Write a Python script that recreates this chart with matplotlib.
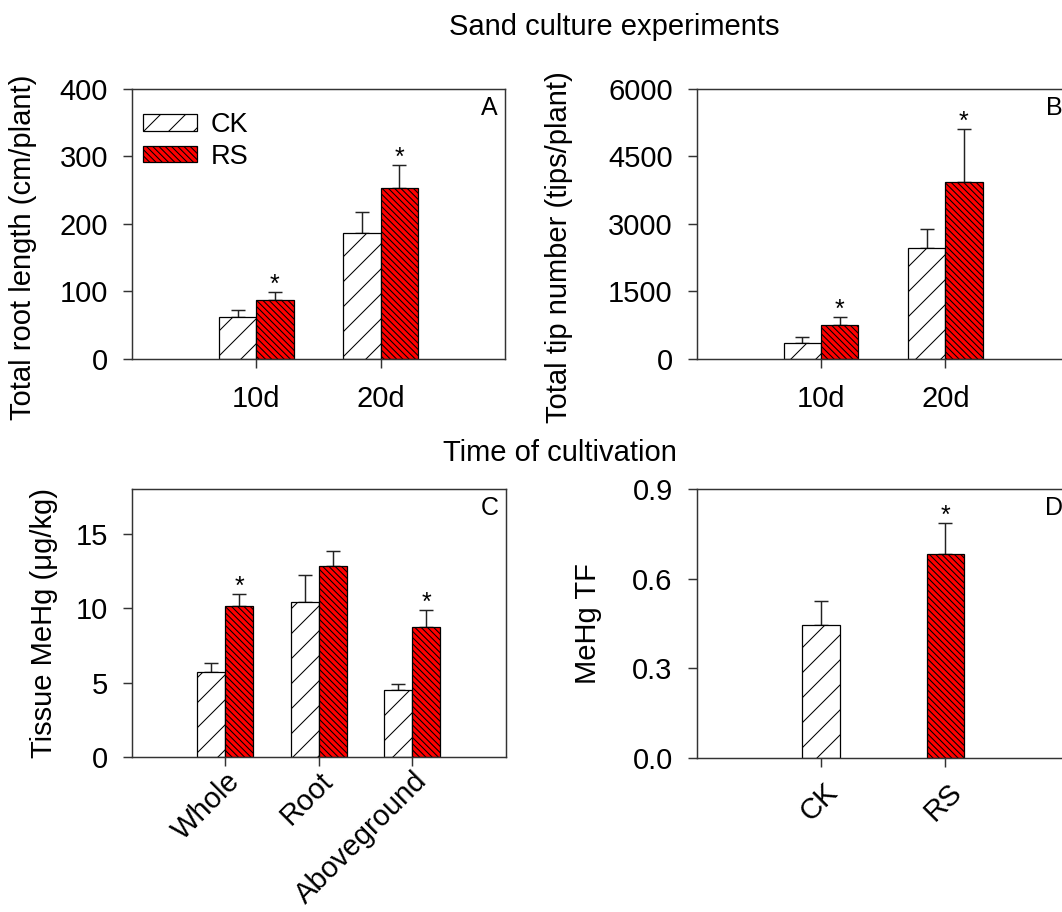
import numpy as np
import matplotlib
matplotlib.use("Agg")
import matplotlib.pyplot as plt
from matplotlib.transforms import ScaledTranslation

plt.rcParams['font.family'] = ['Liberation Sans', 'DejaVu Sans']
plt.rcParams['hatch.linewidth'] = 0.5

# panel A: total root length
days = ['10d', '20d']
root_ck = [62, 187]
root_ck_err = [10, 31]
root_rs = [87, 253]
root_rs_err = [12, 35]
root_sig = [True, True]

# panel B: total tip number
tip_ck = [364, 2470]
tip_ck_err = [120, 424]
tip_rs = [751, 3933]
tip_rs_err = [186, 1175]
tip_sig = [True, True]

# panel C: tissue MeHg
tissues = ['Whole', 'Root', 'Aboveground']
mehg_ck = [5.7, 10.4, 4.48]
mehg_ck_err = [0.63, 1.84, 0.45]
mehg_rs = [10.13, 12.85, 8.7]
mehg_rs_err = [0.81, 0.96, 1.19]
mehg_sig = [True, False, True]

# panel D: MeHg TF
treatments = ['CK', 'RS']
tf_vals = [0.443, 0.681]
tf_err = [0.082, 0.105]
tf_sig = [False, True]

FS = 14
W = 0.3
SPINE = '#333333'
CK_HATCH = '//'
RS_HATCH = '\\' * 8


def style_axis(ax, ylim, yticks, letter):
    ax.set_ylim(*ylim)
    ax.set_yticks(yticks)
    for s in ax.spines.values():
        s.set_color(SPINE)
        s.set_linewidth(0.7)
    ax.tick_params(axis='both', direction='out', length=4.5, width=0.7,
                   color=SPINE, labelsize=FS)
    ax.tick_params(axis='y', pad=7)
    ax.tick_params(axis='x', pad=8)
    ax.text(0.958, 0.93, letter, transform=ax.transAxes, fontsize=12,
            ha='center', va='center')


def star(ax, x, top):
    ax.annotate('*', xy=(x, top), xytext=(0, 0), textcoords='offset points',
                ha='center', va='baseline', fontsize=12)


def grouped(ax, labels, ck, ck_err, rs, rs_err, sig):
    x = np.arange(1, len(labels) + 1)
    ax.bar(x - W / 2, ck, W, color='white', edgecolor='black', hatch=CK_HATCH,
           linewidth=0.6, label='CK', zorder=2)
    ax.bar(x + W / 2, rs, W, color='#ff0000', edgecolor='black',
           hatch=RS_HATCH, linewidth=0.6, label='RS', zorder=2)
    ax.errorbar(x - W / 2, ck, yerr=[np.zeros(len(ck)), ck_err], fmt='none',
                ecolor='#222222', elinewidth=0.7, capsize=3.5, capthick=0.7, zorder=1)
    ax.errorbar(x + W / 2, rs, yerr=[np.zeros(len(rs)), rs_err], fmt='none',
                ecolor='#222222', elinewidth=0.7, capsize=3.5, capthick=0.7, zorder=1)
    for i in range(len(labels)):
        if sig[i]:
            star(ax, x[i] + W / 2, rs[i] + rs_err[i])
    ax.set_xlim(0, len(labels) + 1)
    ax.set_xticks(x)
    ax.set_xticklabels(labels)


def rotate_labels(ax, fig, dx):
    off = ScaledTranslation(dx / 72, 0, fig.dpi_scale_trans)
    for lab in ax.get_xticklabels():
        lab.set_rotation(45)
        lab.set_ha('right')
        lab.set_va('center')
        lab.set_rotation_mode('anchor')
        lab.set_transform(lab.get_transform() + off)


fig = plt.figure(figsize=(1062 / 150, 912 / 150), dpi=150)

axA = fig.add_axes([0.1243, 0.6064, 0.3512, 0.2960])
grouped(axA, days, root_ck, root_ck_err, root_rs, root_rs_err, root_sig)
style_axis(axA, (0, 400), [0, 100, 200, 300, 400], 'A')
axA.set_ylabel('Total root length (cm/plant)', fontsize=FS)
axA.yaxis.set_label_coords(-0.255, 0.415)
axA.legend(loc='upper left', bbox_to_anchor=(0.03, 0.915), frameon=False,
           fontsize=13, handlelength=2.0, handleheight=0.55,
           handletextpad=0.5, labelspacing=0.22, borderpad=0, borderaxespad=0)

axB = fig.add_axes([0.656, 0.6064, 0.3512, 0.2960])
grouped(axB, days, tip_ck, tip_ck_err, tip_rs, tip_rs_err, tip_sig)
style_axis(axB, (0, 6000), [0, 1500, 3000, 4500, 6000], 'B')
axB.set_ylabel('Total tip number (tips/plant)', fontsize=FS)
axB.yaxis.set_label_coords(-0.332, 0.415)

axC = fig.add_axes([0.124, 0.1700, 0.352, 0.2938])
grouped(axC, tissues, mehg_ck, mehg_ck_err, mehg_rs, mehg_rs_err, mehg_sig)
style_axis(axC, (0, 18), [0, 5, 10, 15], 'C')
axC.set_ylabel('Tissue MeHg (\u03bcg/kg)', fontsize=FS)
axC.yaxis.set_label_coords(-0.197, 0.5)
axC.tick_params(axis='x', pad=5)
rotate_labels(axC, fig, 5)

axD = fig.add_axes([0.656, 0.1692, 0.3512, 0.2946])
xd = np.arange(1, len(treatments) + 1)
axD.bar(xd[0], tf_vals[0], W, color='white', edgecolor='black', hatch=CK_HATCH,
        linewidth=0.6, zorder=2)
axD.bar(xd[1], tf_vals[1], W, color='#ff0000', edgecolor='black',
        hatch=RS_HATCH, linewidth=0.6, zorder=2)
axD.errorbar(xd, tf_vals, yerr=[np.zeros(len(tf_vals)), tf_err], fmt='none',
             ecolor='#222222', elinewidth=0.7, capsize=3.5, capthick=0.7, zorder=1)
for i in range(len(treatments)):
    if tf_sig[i]:
        star(axD, xd[i], tf_vals[i] + tf_err[i])
axD.set_xlim(0, len(treatments) + 1)
axD.set_xticks(xd)
axD.set_xticklabels(treatments)
style_axis(axD, (0, 0.9), [0.0, 0.3, 0.6, 0.9], 'D')
axD.yaxis.set_major_formatter(matplotlib.ticker.FormatStrFormatter('%.1f'))
axD.set_ylabel('MeHg TF', fontsize=FS)
axD.yaxis.set_label_coords(-0.254, 0.5)
axD.tick_params(axis='x', pad=10)
rotate_labels(axD, fig, 6)

fig.text(0.578, 0.970, 'Sand culture experiments', fontsize=FS,
         ha='center', va='center')
fig.text(0.527, 0.503, 'Time of cultivation', fontsize=FS,
         ha='center', va='center')

fig.savefig('out.png', dpi=150)
